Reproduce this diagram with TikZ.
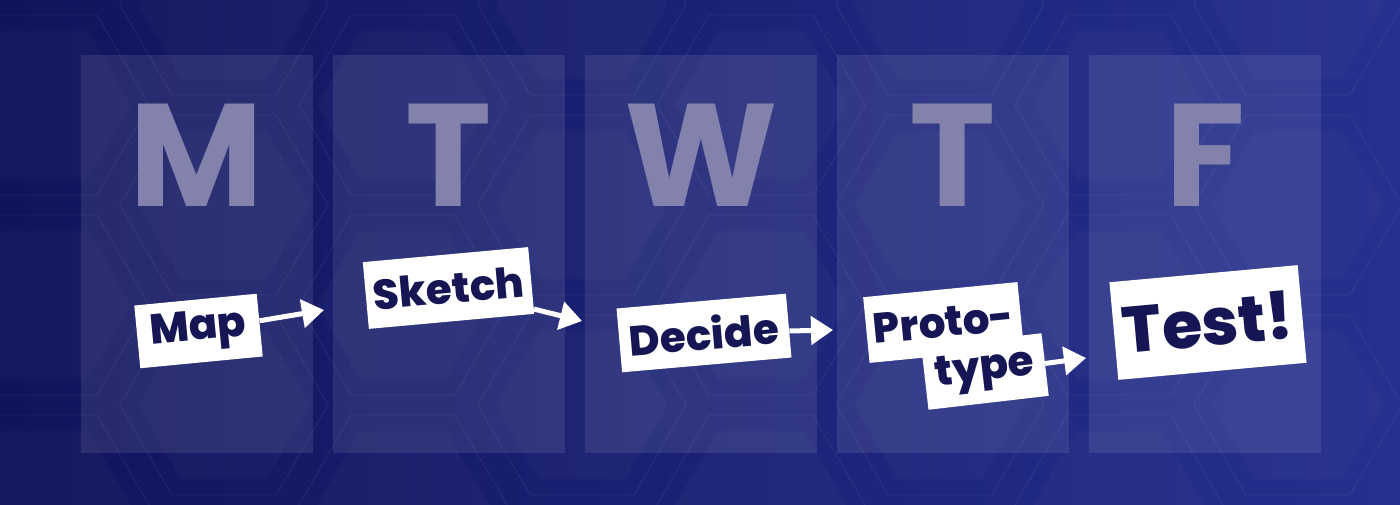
\documentclass[tikz,border=0pt]{standalone}
\usepackage{fontspec}
\setmainfont{Poppins}
\IfFontExistsTF{Poppins ExtraBold}{\newfontfamily\cardfont{Poppins ExtraBold}}{\newcommand{\cardfont}{\bfseries}}
\usetikzlibrary{arrows.meta}
\definecolor{bgleft}{RGB}{16,20,92}
\definecolor{bgright}{RGB}{38,48,142}
\definecolor{ink}{RGB}{22,22,84}
\definecolor{dayink}{RGB}{130,130,172}
\tikzset{
    card/.style={fill=white, text=ink, inner sep=0pt, font=\cardfont\fontsize{42}{42}\selectfont},
    flow/.style={-{Triangle[length=22pt, width=28pt]}, white, line width=5pt},
    hexline/.style={white, opacity=0.07, line width=0.8pt},
    hexfill/.style={white, opacity=0.025},
    dayletter/.style={anchor=base, text=dayink, inner sep=0pt, font=\bfseries\fontsize{146}{146}\selectfont}
}
\begin{document}
\begin{tikzpicture}[x=1pt, y=-1pt]
        \useasboundingbox (0, 0) rectangle (1400, 505);
        \clip (0, 0) rectangle (1400, 505);
        \shade[left color=bgleft, right color=bgright] (0, 0) rectangle (1400, 505);
        \foreach \k in {0,...,7} {
            \foreach \j in {-1,...,3} {
                \pgfmathsetmacro{\hx}{45+179*\k}
                \pgfmathsetmacro{\hy}{105-100*mod(\k,2)+200*\j}
                \fill[hexfill] ({\hx+86}, \hy) -- ({\hx+43}, {\hy+74}) -- ({\hx-43}, {\hy+74}) -- ({\hx-86}, \hy) -- ({\hx-43}, {\hy-74}) -- ({\hx+43}, {\hy-74}) -- cycle;
                \draw[hexline] ({\hx+104}, \hy) -- ({\hx+52}, {\hy+90}) -- ({\hx-52}, {\hy+90}) -- ({\hx-104}, \hy) -- ({\hx-52}, {\hy-90}) -- ({\hx+52}, {\hy-90}) -- cycle;
            }
        }
        \foreach \d [count=\i from 0] in {M,T,W,T,F} {
            \fill[white, opacity=0.09] ({81+252*\i}, 55) rectangle ++(232, 398);
            \node[dayletter] (day\i) at ({197+252*\i}, 207) {\d};
        }
        \node[card, rotate=5.5, minimum width=123pt, minimum height=63pt] (map) at (198.5, 331) {Map};
        \node[card, rotate=5.2, minimum width=166pt, minimum height=67pt] (sketch) at (448.5, 288) {Sketch};
        \node[card, rotate=5, minimum width=170pt, minimum height=64pt] (decide) at (704, 333) {Decide};
        \node[card, rotate=5.6, minimum width=155pt, minimum height=66pt] (proto) at (943.5, 322.5) {Proto-};
        \node[card, rotate=6.6, minimum width=121pt, minimum height=63pt] (type) at (985, 371.5) {type};
        \node[card, rotate=5.2, minimum width=189pt, minimum height=98pt, font=\cardfont\fontsize{65}{65}\selectfont] (test) at (1208, 322.5) {Test!};
        \coordinate (toSketch) at (324, 310);
        \coordinate (toDecide) at (582, 321);
        \coordinate (toProto) at (833, 330);
        \coordinate (toTest) at (1086, 358);
        \draw[flow] (map) -- (toSketch);
        \draw[flow] (sketch) -- (toDecide);
        \draw[flow] (decide) -- (toProto);
        \draw[flow] (type) -- (toTest);
\end{tikzpicture}
\end{document}
